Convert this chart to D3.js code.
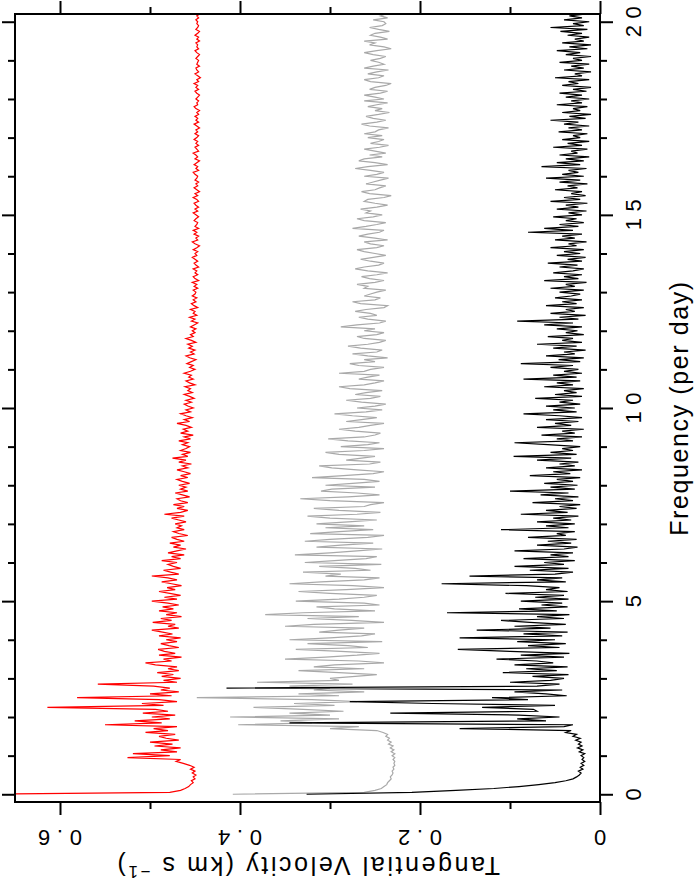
<!DOCTYPE html>
<html><head><meta charset="utf-8">
<script src="https://cdn.jsdelivr.net/npm/d3@7"></script>
<style>
body{margin:0;background:#fff;}
text{font-family:"Liberation Sans",Arial,sans-serif;fill:#000;}
</style>
</head><body>
<svg id="c" width="697" height="892"></svg>
<script>
// Sampling grid of the periodograms (per day)
const FREQ_STEP = 0.05;
// Tangential velocity amplitudes in m/s, one value per FREQ_STEP, starting at 0 per day
const redVel = [
700,478,466,461,457,455,452,454,450,452,449,453,450,455,451,456,463,471,466,525,
478,519,470,488,466,495,475,500,468,482,490,472,505,480,496,470,550,487,517,478,
498,472,508,480,494,614,485,509,470,490,581,476,500,468,488,478,496,558,470,485,
466,487,474,492,468,480,470,494,505,476,485,465,490,472,484,491,468,479,488,470,
482,466,490,475,486,498,468,480,472,497,476,488,465,482,470,490,474,486,468,480,
498,470,484,466,478,490,472,481,465,476,487,470,480,498,468,477,485,466,474,480,
470,487,466,476,462,480,470,460,474,466,478,462,470,476,458,468,474,462,470,465,
472,460,468,476,462,484,466,458,470,462,474,458,466,470,456,464,472,458,466,460,
468,456,464,470,458,466,455,462,470,458,464,454,468,460,475,458,464,455,466,460,
456,464,458,468,455,462,452,466,458,463,454,460,470,456,462,453,460,466,455,460,
452,458,462,454,460,451,456,462,453,458,455,461,450,456,460,452,457,454,462,455,
450,456,452,459,454,449,456,460,451,455,450,457,453,458,449,454,460,452,455,450,
453,449,455,451,447,454,450,456,448,452,450,455,447,451,454,449,452,448,453,450,
449,452,447,451,448,453,446,450,452,447,450,448,452,446,449,451,447,450,453,448,
450,447,452,448,445,450,453,447,449,446,451,448,452,446,450,448,447,451,449,446,
449,452,447,450,446,449,451,446,448,452,447,450,445,448,451,447,449,446,450,448,
447,450,452,446,449,447,451,448,445,450,447,449,452,446,448,450,446,449,447,451,
448,446,450,447,449,445,448,451,446,449,447,450,446,448,445,449,451,447,448,446,
449,447,445,448,450,446,449,447,451,446,448,444,447,450,446,448,449,445,448,447,
446,449,447,445,448,450,446,448,447,449,445,448,446,450,447,445,449,447,446,448,
447,449,446,448,445];
const grayVel = [
408,262,250,243,240,237,236,234,232,233,231,230,231,229,230,228,229,228,230,228,
231,228,232,229,233,230,235,232,236,234,238,236,241,248,300,268,402,320,355,290,
411,300,345,285,330,385,295,340,270,320,448,290,335,262,318,300,345,275,381,290,
300,272,248,290,335,262,318,295,240,268,350,305,270,245,288,338,258,280,325,242,
345,300,265,250,312,290,262,350,318,240,276,325,268,372,330,250,295,315,245,262,
338,290,262,248,300,335,282,240,275,345,310,262,245,305,288,330,255,272,312,243,
328,295,260,248,339,300,270,242,315,288,252,328,300,258,240,322,290,252,305,262,
315,280,248,300,325,270,244,290,318,262,255,240,300,333,280,245,270,310,298,250,
305,275,245,262,320,285,252,240,270,298,312,256,244,282,265,250,290,305,262,240,
288,258,245,280,302,262,250,244,272,290,268,255,240,282,265,248,275,295,260,242,
270,250,238,265,282,255,244,272,260,242,278,290,262,250,240,268,258,245,290,262,
255,240,268,278,250,262,236,258,275,248,242,266,280,258,245,238,262,270,248,240,
262,250,288,270,245,238,258,268,248,255,272,260,240,236,266,275,250,244,262,255,
248,238,262,258,270,250,240,256,265,248,236,258,272,262,246,240,255,266,252,238,
250,262,270,248,240,255,262,236,250,268,258,245,240,275,260,248,238,262,270,252,
242,260,255,266,248,236,250,262,258,240,232,256,265,250,245,238,260,252,244,235,
262,248,240,255,272,258,236,250,268,262,242,256,238,250,262,245,235,255,246,240,
258,242,262,250,246,235,256,265,248,238,252,260,246,234,250,242,258,248,236,262,
240,250,262,244,236,256,250,238,232,255,262,246,240,258,248,235,262,252,240,246,
255,244,238,252,262,248,232,240,256,250,262,236,244,255,250,234,246,256,242,238,
240,252,236,244,238];
const blackVel = [
326,209,160,118,90,68,50,38,30,26,23,21,24,19,22,18,21,17,20,18,
21,17,23,19,25,20,24,21,27,22,30,26,38,32,156,40,30,345,60,92,
45,90,233,70,74,131,50,186,278,80,120,37,60,95,42,415,70,45,100,55,
40,75,35,108,48,82,36,95,52,70,115,40,88,34,100,158,45,80,38,92,
50,156,42,85,36,137,55,95,38,78,110,40,70,34,170,48,90,36,65,42,
88,35,72,40,105,36,60,45,82,176,38,70,42,145,50,30,78,35,95,40,
62,28,85,35,55,30,95,40,25,70,32,58,26,80,38,48,28,110,35,60,
28,70,32,52,24,88,36,60,26,45,22,75,30,50,24,66,35,100,28,55,
25,62,30,48,22,78,33,52,20,60,28,45,24,70,32,96,26,55,30,42,
22,58,95,30,48,20,65,28,42,18,70,32,50,24,60,20,45,85,26,52,
28,60,22,45,30,72,20,50,26,40,18,62,30,48,22,85,26,52,20,40,
24,55,30,88,22,46,18,60,28,40,16,52,26,70,20,42,30,58,18,38,
25,48,20,62,30,92,24,45,16,55,28,38,18,60,26,42,20,50,32,22,
45,18,55,28,38,15,62,24,40,20,52,30,18,45,25,58,20,36,16,48,
22,40,18,55,26,35,15,50,28,42,20,80,30,62,24,45,18,38,26,52,
20,35,15,48,24,38,14,55,22,40,16,32,20,50,25,36,14,45,22,60,
18,42,24,35,15,65,22,48,18,38,12,45,25,32,14,52,20,36,12,42,
22,30,14,46,20,35,12,40,24,55,16,34,10,42,22,30,14,48,20,32,
12,38,20,45,15,30,10,42,24,35,12,50,20,28,10,40,18,32,12,45,
20,30,10,38,22,48,14,34,10,42,18,28,12,36,20,44,14,55,18,30,
12,40,20,34,15];

const freqMajor = [0, 5, 10, 15, 20];
const freqMinor = [1,2,3,4,6,7,8,9,11,12,13,14,16,17,18,19];
const velMajor = [0, 0.2, 0.4, 0.6];
const velMinor = [0.1, 0.3, 0.5];
const velLabels = ["0", "0.2", "0.4", "0.6"];
const freqLabels = ["0", "5", "10", "15", "20"];
const freqTitle = "Frequency (per day)";

const svg = d3.select("#c");
const L = 15, R = 600, T = 14, B = 802;
const x = d3.scaleLinear().domain([0, 0.65]).range([R, L]);
const y = d3.scaleLinear().domain([-0.2, 20.2]).range([B, T]);

svg.append("clipPath").attr("id","clip").append("rect")
  .attr("x", L).attr("y", T).attr("width", R - L).attr("height", B - T);

const toPts = arr => arr.map((v, i) => ({f: i * FREQ_STEP, v: v / 1000}));
const line = d3.line().x(d => x(d.v)).y(d => y(d.f));

const series = [
  {data: redVel, color: "#ff0000"},
  {data: grayVel, color: "#a9a9a9"},
  {data: blackVel, color: "#000000"}
];
svg.append("g").attr("clip-path","url(#clip)")
  .selectAll("path").data(series).join("path")
  .attr("d", s => line(toPts(s.data)))
  .attr("fill","none").attr("stroke", s => s.color)
  .attr("stroke-width", 1.2).attr("stroke-linejoin","miter");

function ticks(axis, tx, ty) {
  const g = svg.append("g").attr("transform", `translate(${tx},${ty})`).call(axis);
  g.select(".domain").remove();
  g.selectAll(".tick line").attr("stroke","#000").attr("stroke-width", 2);
  g.selectAll(".tick text").remove();
}
ticks(d3.axisRight(y).tickValues(freqMajor).tickSize(13).tickFormat(""), R, 0);
ticks(d3.axisRight(y).tickValues(freqMinor).tickSize(7).tickFormat(""), R, 0);
ticks(d3.axisLeft(y).tickValues(freqMajor).tickSize(13).tickFormat(""), L, 0);
ticks(d3.axisLeft(y).tickValues(freqMinor).tickSize(7).tickFormat(""), L, 0);
ticks(d3.axisBottom(x).tickValues(velMajor).tickSize(13).tickFormat(""), 0, B);
ticks(d3.axisBottom(x).tickValues(velMinor).tickSize(7).tickFormat(""), 0, B);
ticks(d3.axisTop(x).tickValues(velMajor).tickSize(13).tickFormat(""), 0, T);
ticks(d3.axisTop(x).tickValues(velMinor).tickSize(7).tickFormat(""), 0, T);

svg.append("rect").attr("x", L).attr("y", T).attr("width", R - L).attr("height", B - T)
  .attr("fill","none").attr("stroke","#000").attr("stroke-width", 2);

// Frequency tick labels (rotated)
svg.append("g").selectAll("text").data(freqMajor).join("text")
  .attr("transform", d => `translate(641,${y(d)}) rotate(-90)`)
  .attr("text-anchor","middle").attr("font-size", 22)
  .each(function(d, i) {
    const t = d3.select(this).text(freqLabels[i]);
    if (freqLabels[i].length > 1) t.attr("textLength", 31).attr("lengthAdjust","spacing");
  });

// Velocity tick labels (upside down)
svg.append("g").selectAll("text").data(velMajor).join("text")
  .attr("transform", d => `translate(${x(d)},830) rotate(180)`)
  .attr("text-anchor","middle").attr("font-size", 22)
  .each(function(d, i) {
    const t = d3.select(this).text(velLabels[i]);
    if (velLabels[i].length > 1) t.attr("textLength", 44).attr("lengthAdjust","spacing");
  });

// Axis titles
svg.append("text").attr("transform", `translate(688,${(T + B) / 2}) rotate(-90)`)
  .attr("text-anchor","middle").attr("font-size", 25).attr("letter-spacing", 1.6)
  .text(freqTitle);

const vt = svg.append("text").attr("transform", `translate(${(L + R) / 2},857) rotate(180)`)
  .attr("text-anchor","middle").attr("font-size", 25).attr("letter-spacing", 2.6);
vt.append("tspan").text("Tangential Velocity (km s ");
vt.append("tspan").attr("font-size", 17).attr("baseline-shift", "super").text("\u22121");
vt.append("tspan").text(")");
</script>
</body></html>
